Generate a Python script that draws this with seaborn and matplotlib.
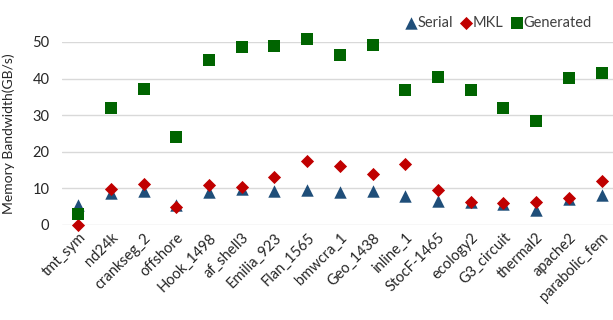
import pandas as pd
import matplotlib
matplotlib.use("Agg")
import matplotlib.pyplot as plt
import seaborn as sns

matrices = ["tmt_sym", "nd24k", "crankseg_2", "offshore", "Hook_1498", "af_shell3",
            "Emilia_923", "Flan_1565", "bmwcra_1", "Geo_1438", "inline_1", "StocF-1465",
            "ecology2", "G3_circuit", "thermal2", "apache2", "parabolic_fem"]
serial = [5.5, 8.8, 9.3, 5.5, 9.0, 9.8, 9.3, 9.5, 9.0, 9.3, 8.0, 6.5, 6.3, 5.8, 4.2, 7.2, 8.3]
mkl = [0.0, 9.7, 11.3, 4.8, 10.8, 10.5, 13.0, 17.5, 16.2, 13.9, 16.6, 9.5, 6.2, 6.1, 6.2, 7.5, 12.0]
generated = [3.0, 32.0, 37.2, 24.0, 45.0, 48.5, 48.8, 50.8, 46.5, 49.2, 37.0, 40.5, 36.8, 32.0, 28.3, 40.2, 41.5]

sns.set_style("white")
plt.rcParams['font.family'] = ['Lato', 'DejaVu Sans']

df = pd.DataFrame({"Matrix": matrices * 3,
                   "Bandwidth": serial + mkl + generated,
                   "Kernel": ["Serial"] * 17 + ["MKL"] * 17 + ["Generated"] * 17})
df["x"] = list(range(17)) * 3

fig = plt.figure(figsize=(6.13, 3.2), dpi=100)
ax = fig.add_axes([0.101, 0.297, 0.907, 0.572])

palette = {"Serial": "#1F4E79", "MKL": "#C00000", "Generated": "#006400"}
markers = {"Serial": "^", "MKL": "D", "Generated": "s"}
sizes = {"Serial": 80, "MKL": 45, "Generated": 80}
for k in ["Serial", "MKL", "Generated"]:
    sub = df[df["Kernel"] == k]
    ax.scatter(sub["x"], sub["Bandwidth"], marker=markers[k], s=sizes[k],
               color=palette[k], label=k, clip_on=False, zorder=3, linewidths=0)

ax.set_xlim(-0.5, 16.5)
ax.set_ylim(0, 50)
ax.set_yticks([0, 10, 20, 30, 40, 50])
ax.yaxis.grid(True, color="#D9D9D9", linewidth=1)
ax.set_axisbelow(True)
for s in ax.spines.values():
    s.set_visible(False)
ax.set_xticks(range(17))
ax.set_xticklabels(matrices, rotation=45, ha="right", rotation_mode="anchor",
                   fontsize=10.5, color="#262626")
ax.tick_params(axis="x", length=0, pad=4)
ax.tick_params(axis="y", length=0, labelsize=10.5, labelcolor="#262626", pad=9)
ax.set_ylabel("Memory Bandwidth(GB/s)", fontsize=10, color="#262626")
ax.yaxis.set_label_coords(-0.085, 0.5)

ax.legend(loc="lower right", bbox_to_anchor=(0.968, 1.02), ncol=3, frameon=False,
          fontsize=10.5, handletextpad=0.05, columnspacing=0.5, borderaxespad=0.2,
          handlelength=0.8, labelcolor="#404040")

fig.savefig("out.png", dpi=100)
